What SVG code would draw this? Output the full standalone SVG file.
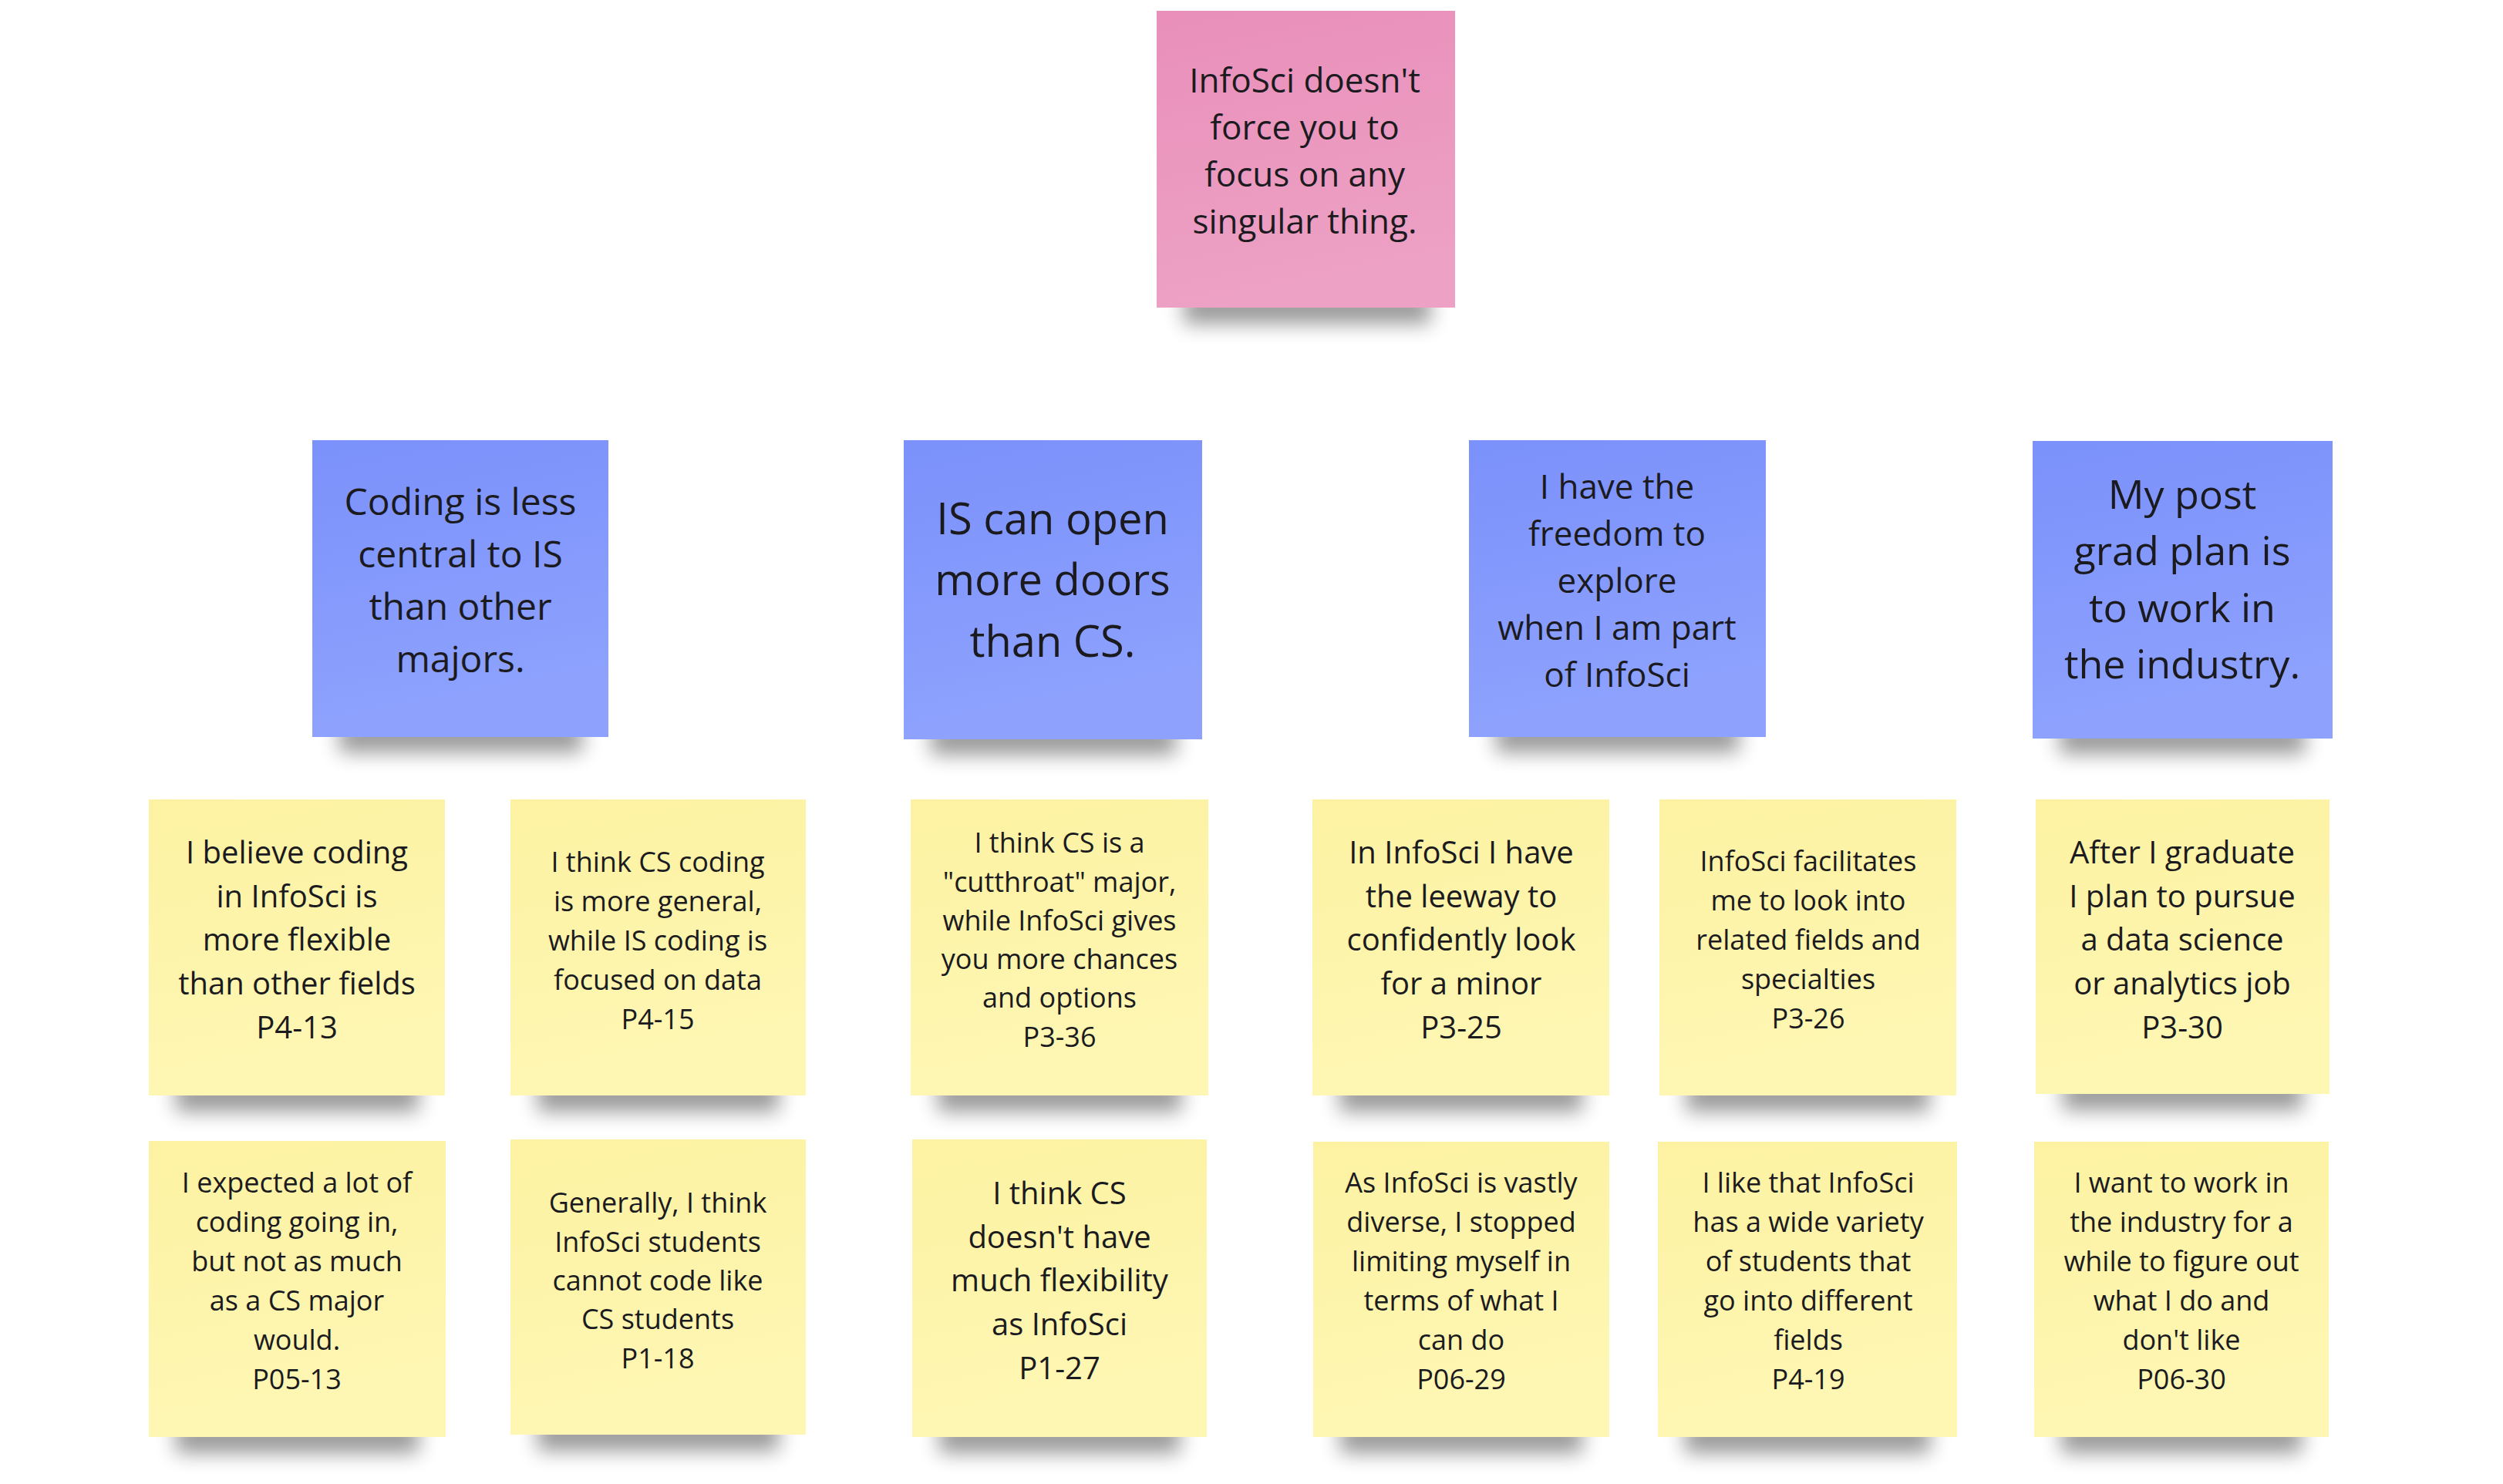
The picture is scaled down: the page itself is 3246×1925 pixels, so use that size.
<svg xmlns="http://www.w3.org/2000/svg" width="3246" height="1925" viewBox="0 0 3246 1925">
  <defs>
    <linearGradient id="gPink" x1="0" y1="0" x2="0.2" y2="1">
      <stop offset="0" stop-color="#e98fba"/>
      <stop offset="1" stop-color="#eda1c4"/>
    </linearGradient>
    <linearGradient id="gBlue" x1="0" y1="0" x2="0.2" y2="1">
      <stop offset="0" stop-color="#7b91fb"/>
      <stop offset="1" stop-color="#8ea2fd"/>
    </linearGradient>
    <linearGradient id="gYellow" x1="0" y1="0" x2="0.2" y2="1">
      <stop offset="0" stop-color="#fdf2a2"/>
      <stop offset="1" stop-color="#fef7b4"/>
    </linearGradient>
    <filter id="shadow" x="-20%" y="-100%" width="140%" height="300%">
      <feGaussianBlur stdDeviation="13"/>
    </filter>
  </defs>
  <style>
    text { font-family: "Open Sans", "Noto Sans", "Liberation Sans", sans-serif; fill: #1b1b1f; text-anchor: middle; }
    .sh { fill: #000; opacity: 0.4; filter: url(#shadow); }
    .pink { fill: url(#gPink); }
    .blue { fill: url(#gBlue); }
    .yellow { fill: url(#gYellow); }
    .f44 { font-size: 44px; }
    .f48 { font-size: 48px; }
    .f56 { font-size: 56px; }
    .f52 { font-size: 52px; }
    .f40 { font-size: 40px; }
    .f36 { font-size: 36px; }
  </style>
  <rect width="3246" height="1925" fill="#ffffff"/>

  <g id="connectors"/>

  <!-- Top pink note -->
  <g id="theme">
    <rect class="sh" x="1535" y="380" width="320" height="40"/>
    <rect class="pink" x="1500" y="14" width="387" height="385"/>
    <text class="f44" x="1692" y="120">InfoSci doesn't</text>
    <text class="f44" x="1692" y="181">force you to</text>
    <text class="f44" x="1692" y="242">focus on any</text>
    <text class="f44" x="1692" y="303">singular thing.</text>
  </g>

  <!-- Blue notes -->
  <g id="cat-coding">
    <rect class="sh" x="440" y="936" width="315" height="40"/>
    <rect class="blue" x="405" y="571" width="384" height="385"/>
    <text class="f48" x="597" y="668">Coding is less</text>
    <text class="f48" x="597" y="736">central to IS</text>
    <text class="f48" x="597" y="804">than other</text>
    <text class="f48" x="597" y="872">majors.</text>
  </g>
  <g id="cat-doors">
    <rect class="sh" x="1207" y="939" width="318" height="40"/>
    <rect class="blue" x="1172" y="571" width="387" height="388"/>
    <text class="f56" x="1365" y="693">IS can open</text>
    <text class="f56" x="1365" y="772">more doors</text>
    <text class="f56" x="1365" y="852">than CS.</text>
  </g>
  <g id="cat-freedom">
    <rect class="sh" x="1940" y="936" width="315" height="40"/>
    <rect class="blue" x="1905" y="571" width="385" height="385"/>
    <text class="f44" x="2097" y="647">I have the</text>
    <text class="f44" x="2097" y="708">freedom to</text>
    <text class="f44" x="2097" y="769">explore</text>
    <text class="f44" x="2097" y="830">when I am part</text>
    <text class="f44" x="2097" y="891">of InfoSci</text>
  </g>
  <g id="cat-industry">
    <rect class="sh" x="2671" y="938" width="318" height="40"/>
    <rect class="blue" x="2636" y="572" width="389" height="386"/>
    <text class="f52" x="2830" y="660">My post</text>
    <text class="f52" x="2830" y="733">grad plan is</text>
    <text class="f52" x="2830" y="807">to work in</text>
    <text class="f52" x="2830" y="880">the industry.</text>
  </g>

  <!-- Yellow notes, row 1 -->
  <g id="q-p4-13">
    <rect class="sh" x="228" y="1402" width="315" height="40"/>
    <rect class="yellow" x="193" y="1037" width="384" height="384"/>
    <text class="f40" x="385" y="1120">I believe coding</text>
    <text class="f40" x="385" y="1177">in InfoSci is</text>
    <text class="f40" x="385" y="1233">more flexible</text>
    <text class="f40" x="385" y="1290">than other fields</text>
    <text class="f40" x="385" y="1347">P4-13</text>
  </g>
  <g id="q-p4-15">
    <rect class="sh" x="697" y="1402" width="313" height="40"/>
    <rect class="yellow" x="662" y="1037" width="383" height="384"/>
    <text class="f36" x="853" y="1131">I think CS coding</text>
    <text class="f36" x="853" y="1182">is more general,</text>
    <text class="f36" x="853" y="1233">while IS coding is</text>
    <text class="f36" x="853" y="1284">focused on data</text>
    <text class="f36" x="853" y="1335">P4-15</text>
  </g>
  <g id="q-p3-36">
    <rect class="sh" x="1216" y="1402" width="316" height="40"/>
    <rect class="yellow" x="1181" y="1037" width="386" height="384"/>
    <text class="f36" x="1374" y="1106">I think CS is a</text>
    <text class="f36" x="1374" y="1157">"cutthroat" major,</text>
    <text class="f36" x="1374" y="1207">while InfoSci gives</text>
    <text class="f36" x="1374" y="1257">you more chances</text>
    <text class="f36" x="1374" y="1307">and options</text>
    <text class="f36" x="1374" y="1358">P3-36</text>
  </g>
  <g id="q-p3-25">
    <rect class="sh" x="1737" y="1402" width="315" height="40"/>
    <rect class="yellow" x="1702" y="1037" width="385" height="384"/>
    <text class="f40" x="1895" y="1120">In InfoSci I have</text>
    <text class="f40" x="1895" y="1177">the leeway to</text>
    <text class="f40" x="1895" y="1233">confidently look</text>
    <text class="f40" x="1895" y="1290">for a minor</text>
    <text class="f40" x="1895" y="1347">P3-25</text>
  </g>
  <g id="q-p3-26">
    <rect class="sh" x="2187" y="1402" width="315" height="40"/>
    <rect class="yellow" x="2152" y="1037" width="385" height="384"/>
    <text class="f36" x="2345" y="1130">InfoSci facilitates</text>
    <text class="f36" x="2345" y="1181">me to look into</text>
    <text class="f36" x="2345" y="1232">related fields and</text>
    <text class="f36" x="2345" y="1283">specialties</text>
    <text class="f36" x="2345" y="1334">P3-26</text>
  </g>
  <g id="q-p3-30">
    <rect class="sh" x="2675" y="1400" width="311" height="40"/>
    <rect class="yellow" x="2640" y="1037" width="381" height="382"/>
    <text class="f40" x="2830" y="1120">After I graduate</text>
    <text class="f40" x="2830" y="1177">I plan to pursue</text>
    <text class="f40" x="2830" y="1233">a data science</text>
    <text class="f40" x="2830" y="1290">or analytics job</text>
    <text class="f40" x="2830" y="1347">P3-30</text>
  </g>

  <!-- Yellow notes, row 2 -->
  <g id="q-p05-13">
    <rect class="sh" x="228" y="1845" width="315" height="40"/>
    <rect class="yellow" x="193" y="1480" width="385" height="384"/>
    <text class="f36" x="385" y="1547">I expected a lot of</text>
    <text class="f36" x="385" y="1598">coding going in,</text>
    <text class="f36" x="385" y="1649">but not as much</text>
    <text class="f36" x="385" y="1700">as a CS major</text>
    <text class="f36" x="385" y="1751">would.</text>
    <text class="f36" x="385" y="1802">P05-13</text>
  </g>
  <g id="q-p1-18">
    <rect class="sh" x="697" y="1842" width="313" height="40"/>
    <rect class="yellow" x="662" y="1478" width="383" height="383"/>
    <text class="f36" x="853" y="1573">Generally, I think</text>
    <text class="f36" x="853" y="1624">InfoSci students</text>
    <text class="f36" x="853" y="1674">cannot code like</text>
    <text class="f36" x="853" y="1724">CS students</text>
    <text class="f36" x="853" y="1775">P1-18</text>
  </g>
  <g id="q-p1-27">
    <rect class="sh" x="1218" y="1845" width="312" height="40"/>
    <rect class="yellow" x="1183" y="1478" width="382" height="386"/>
    <text class="f40" x="1374" y="1562">I think CS</text>
    <text class="f40" x="1374" y="1619">doesn't have</text>
    <text class="f40" x="1374" y="1675">much flexibility</text>
    <text class="f40" x="1374" y="1732">as InfoSci</text>
    <text class="f40" x="1374" y="1789">P1-27</text>
  </g>
  <g id="q-p06-29">
    <rect class="sh" x="1738" y="1845" width="314" height="40"/>
    <rect class="yellow" x="1703" y="1481" width="384" height="383"/>
    <text class="f36" x="1895" y="1547">As InfoSci is vastly</text>
    <text class="f36" x="1895" y="1598">diverse, I stopped</text>
    <text class="f36" x="1895" y="1649">limiting myself in</text>
    <text class="f36" x="1895" y="1700">terms of what I</text>
    <text class="f36" x="1895" y="1751">can do</text>
    <text class="f36" x="1895" y="1802">P06-29</text>
  </g>
  <g id="q-p4-19">
    <rect class="sh" x="2185" y="1845" width="318" height="40"/>
    <rect class="yellow" x="2150" y="1481" width="388" height="383"/>
    <text class="f36" x="2345" y="1547">I like that InfoSci</text>
    <text class="f36" x="2345" y="1598">has a wide variety</text>
    <text class="f36" x="2345" y="1649">of students that</text>
    <text class="f36" x="2345" y="1700">go into different</text>
    <text class="f36" x="2345" y="1751">fields</text>
    <text class="f36" x="2345" y="1802">P4-19</text>
  </g>
  <g id="q-p06-30">
    <rect class="sh" x="2673" y="1845" width="312" height="40"/>
    <rect class="yellow" x="2638" y="1481" width="382" height="383"/>
    <text class="f36" x="2829" y="1547">I want to work in</text>
    <text class="f36" x="2829" y="1598">the industry for a</text>
    <text class="f36" x="2829" y="1649">while to figure out</text>
    <text class="f36" x="2829" y="1700">what I do and</text>
    <text class="f36" x="2829" y="1751">don't like</text>
    <text class="f36" x="2829" y="1802">P06-30</text>
  </g>
</svg>
